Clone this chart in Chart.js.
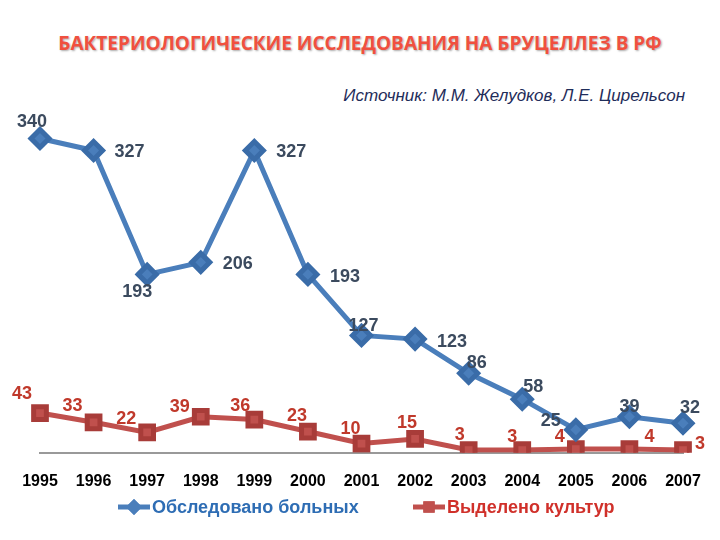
<!DOCTYPE html>
<html><head><meta charset="utf-8">
<script src="https://cdn.jsdelivr.net/npm/chart.js@4"></script>
<style>
body{margin:0;width:720px;height:540px;background:#fff;position:relative;overflow:hidden;font-family:"Liberation Sans",Arial,sans-serif}
#t{position:absolute;left:0;width:720px;top:30px;text-align:center;font-family:"Open Sans","Liberation Sans";font-weight:bold;font-size:19px;color:#f0503f;text-shadow:1px 1px 2px #aaa}
#s{position:absolute;right:35px;top:86px;font-style:italic;font-size:17px;color:#1f2d5a}
canvas{position:absolute;left:0;top:0}
</style></head><body>
<div id="t">БАКТЕРИОЛОГИЧЕСКИЕ ИССЛЕДОВАНИЯ НА БРУЦЕЛЛЕЗ В РФ</div>
<div id="s">Источник: М.М. Желудков, Л.Е. Цирельсон</div>
<canvas id="c" width="720" height="540"></canvas>
<script>
const years=["1995","1996","1997","1998","1999","2000","2001","2002","2003","2004","2005","2006","2007"];
const examined=[340,327,193,206,327,193,127,123,86,58,25,39,32];
const cultures=[43,33,22,39,36,23,10,15,3,3,4,4,3];
const seriesNames=["Обследовано больных","Выделено культур"];
const blueOff=[[-8,-16],[36,2],[-10,18],[37,2],[37,2],[37,3],[2,-9],[37,3],[8,-10],[11,-12],[-25,-9],[0,-10],[7,-15]];
const redOff=[[-18,-19],[-21,-16],[-21,-13],[-21,-10],[-14,-13],[-11,-16],[-11,-15],[-8,-16],[-9,-15],[-10,-13],[-16,-12],[20,-12],[17,-6]];
const BLUE="#4a7ebb",RED="#c0504d";
const labels={id:"lbl",afterDatasetsDraw(ch){const c=ch.ctx;c.save();c.font="bold 18px 'Liberation Sans'";c.textAlign="center";c.textBaseline="middle";
 [[0,blueOff,"#3b4a5e"],[1,redOff,"#c0392b"]].forEach(([i,off,col])=>{c.fillStyle=col;ch.getDatasetMeta(i).data.forEach((p,k)=>{c.fillText(ch.data.datasets[i].data[k],p.x+off[k][0],p.y+off[k][1]);});});
 const y=507;c.font="bold 18px 'Liberation Sans'";c.textAlign="left";
 [[118,BLUE,"rectRot",seriesNames[0],"#2e6db4"],[413,RED,"rect",seriesNames[1],"#d0302a"]].forEach(([x,col,ps,txt,tc])=>{
  c.strokeStyle=col;c.lineWidth=5;c.beginPath();c.moveTo(x,y);c.lineTo(x+32,y);c.stroke();
  c.fillStyle=col;Chart.helpers.drawPoint(c,{pointStyle:ps,radius:8,borderWidth:0},x+16,y);c.fill();
  c.fillStyle=tc;c.fillText(txt,x+34,y+1);});
 c.restore();}};
new Chart(document.getElementById("c"),{type:"line",
data:{labels:years,datasets:[
 {label:seriesNames[0],data:examined,borderColor:BLUE,backgroundColor:BLUE,borderWidth:5,pointStyle:"rectRot",pointRadius:9,pointBorderColor:"#3a6ca8",tension:0},
 {label:seriesNames[1],data:cultures,borderColor:RED,backgroundColor:RED,borderWidth:5,pointStyle:"rect",pointRadius:9,pointBorderColor:"#a83c39",tension:0}]},
options:{responsive:false,animation:false,layout:{padding:{left:40,right:37,top:120,bottom:30}},
 plugins:{legend:{display:false},tooltip:{enabled:false}},
 scales:{x:{offset:false,grid:{display:false,drawTicks:false},border:{display:true,color:"#999",width:2},ticks:{color:"#000",font:{family:"Liberation Sans",weight:"bold",size:16},padding:19}},
 y:{display:false,min:0,max:360}}}, plugins:[labels]});
</script></body></html>
